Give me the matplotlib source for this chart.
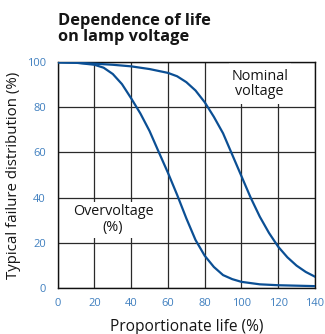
import matplotlib
matplotlib.use("Agg")
import matplotlib.pyplot as plt
from matplotlib.patches import Rectangle

# Proportionate life (%) and typical failure distribution (%) for two lamp voltages
over_life = [0, 10, 20, 25, 30, 35, 40, 45, 50, 55, 60, 65, 70, 75, 80, 85, 90, 95,
             100, 110, 120, 130, 140]
over_fail = [100, 99.8, 98.9, 97.6, 94.8, 90.3, 84, 77.3, 69.5, 60.2, 51, 41.2, 30.8, 21.2,
             14.2, 9.2, 5.6, 3.8, 2.6, 1.5, 1.1, 0.9, 0.7]

nominal_life = [0, 10, 20, 30, 40, 50, 60, 65, 70, 75, 80, 85, 90, 95, 100, 105, 110,
                115, 120, 125, 130, 135, 140]
nominal_fail = [100, 99.8, 99.4, 98.9, 98.2, 97, 95.3, 93.8, 91.2, 87.5, 82.3, 75.8, 68.5,
                59, 49.5, 40, 31.5, 24.3, 18.2, 13.5, 9.8, 7, 4.9]

x_ticks = [0, 20, 40, 60, 80, 100, 120, 140]
y_ticks = [0, 20, 40, 60, 80, 100]

plt.rcParams['font.family'] = ['Open Sans', 'DejaVu Sans']

fig = plt.figure(figsize=(3.25, 3.34), dpi=100)
ax = fig.add_axes([0.1775, 0.1386, 0.7915, 0.6749])

line_color = "#0b4f94"
tick_color = "#3f7fbf"
text_color = "#151515"

ax.set_xlim(0, 140)
ax.set_ylim(0, 100)
ax.set_xticks(x_ticks)
ax.set_yticks(y_ticks)
ax.grid(True, color="#2a2a2a", linewidth=0.9, zorder=1)
ax.set_axisbelow(True)
for s in ax.spines.values():
    s.set_color("#111111")
    s.set_linewidth(1.0)
ax.tick_params(axis="x", length=0, labelsize=8, labelcolor=tick_color, pad=7.5)
ax.tick_params(axis="y", length=0, labelsize=8, labelcolor=tick_color, pad=8.5)

# white panels behind the annotations
ax.add_patch(Rectangle((93, 81.6), 34, 18.1, facecolor="white", edgecolor="none", zorder=1.5))
ax.add_patch(Rectangle((5, 22), 50, 16, facecolor="white", edgecolor="none", zorder=1.5))

ax.plot(over_life, over_fail, color=line_color, linewidth=1.6, zorder=3,
        solid_joinstyle="round")
ax.plot(nominal_life, nominal_fail, color=line_color, linewidth=1.6, zorder=3,
        solid_joinstyle="round")

ax.text(109.9, 90.3, "Nominal\nvoltage", ha="center", va="center", fontsize=10.4,
        linespacing=1.05, color=text_color, zorder=4)
ax.text(30.1, 30.2, "Overvoltage\n(%)", ha="center", va="center", fontsize=10.4,
        linespacing=1.05, color=text_color, zorder=4)

ax.set_xlabel("Proportionate life (%)", fontsize=11.2, color=text_color, labelpad=7)
ax.set_ylabel("Typical failure distribution (%)", fontsize=10.8, color=text_color, labelpad=4)

fig.text(0.1775, 0.962, "Dependence of life\non lamp voltage", ha="left", va="top",
         fontsize=11.8, fontweight="bold", linespacing=1.02, color=text_color)

fig.savefig("out.png", dpi=100)
